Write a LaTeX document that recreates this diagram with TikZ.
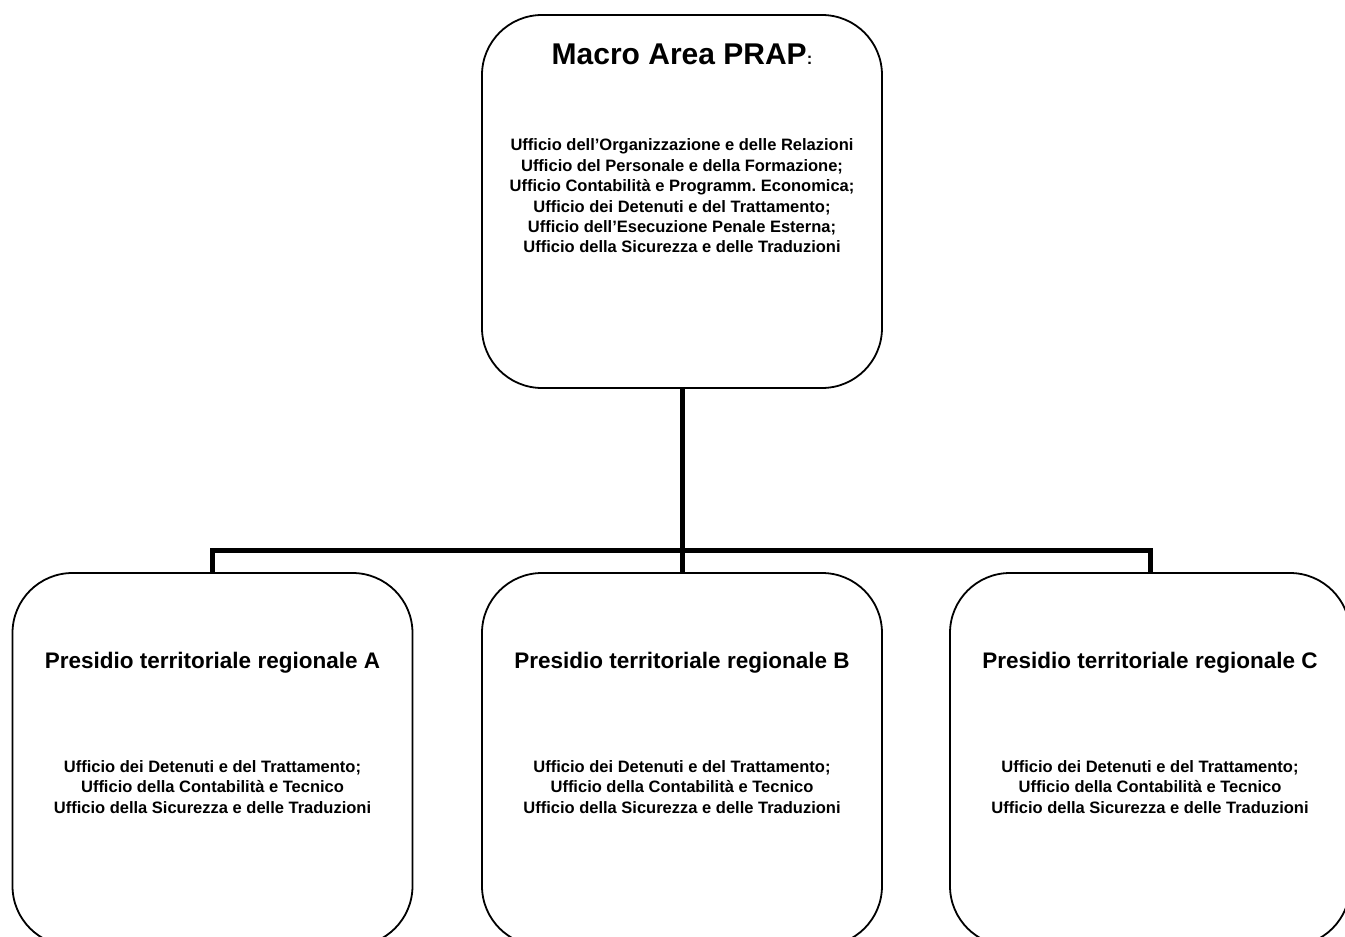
\documentclass[tikz,border=0pt]{standalone}
\usepackage{fontspec}
\setmainfont{Liberation Sans}
\frenchspacing

\begin{document}
\begin{tikzpicture}[x=1pt,y=-1pt,
    ufficio/.style={draw,line width=1.8pt,rounded corners=60pt,minimum width=400pt,minimum height=373pt,inner sep=0pt},
    titolo/.style={font=\bfseries\fontsize{30}{36}\selectfont},
    presidio/.style={font=\bfseries\fontsize{22.5}{27}\selectfont},
    elenco/.style={align=center,font=\bfseries\fontsize{16.5}{20.4}\selectfont},
    linea/.style={line width=5pt}]
        \useasboundingbox (0,0) rectangle (1345,937);
        \node[ufficio] (prap) at (682,201.5) {};
        \node[ufficio] (presA) at (212.5,759.5) {};
        \node[ufficio] (presB) at (682,759.5) {};
        \node[ufficio] (presC) at (1150,759.5) {};
        \coordinate (bus) at (682,550);
        \draw[linea] (prap.south) -- (presB.north);
        \draw[linea] (presA.north) |- (bus) -| (presC.north);
        \node[titolo,anchor=base] (titoloprap) at (682,64) {Macro Area PRAP{\fontsize{16.5}{20}\selectfont:}};
        \node[elenco] (elencoprap) at (682,196) {Ufficio dell'Organizzazione e delle Relazioni\\
            Ufficio del Personale e della Formazione;\\
            Ufficio Contabilità e Programm. Economica;\\
            Ufficio dei Detenuti e del Trattamento;\\
            Ufficio dell'Esecuzione Penale Esterna;\\
            Ufficio della Sicurezza e delle Traduzioni};
        \foreach \n/\x/\l in {presA/212.5/A, presB/682/B, presC/1150/C} {
            \node[presidio,anchor=base] (titolo\n) at (\x,668) {Presidio territoriale regionale \l};
            \node[elenco] (elenco\n) at (\x,787) {Ufficio dei Detenuti e del Trattamento;\\
                Ufficio della Contabilità e Tecnico\\
                Ufficio della Sicurezza e delle Traduzioni};
        }
    \end{tikzpicture}
\end{document}
